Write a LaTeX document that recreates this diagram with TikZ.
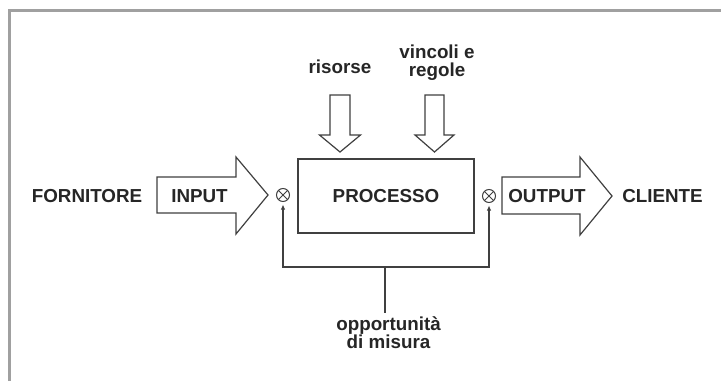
\documentclass[tikz,border=0pt]{standalone}
\usepackage{fontspec}
\setmainfont{Liberation Sans}
\usetikzlibrary{arrows.meta}
\definecolor{ln}{HTML}{404040}
\definecolor{frm}{HTML}{A0A0A0}
\tikzset{
  lbl/.style={font=\fontsize{18.8}{18}\selectfont\bfseries, inner sep=0pt, align=center, text=black!85},
  blk/.style={draw=ln, line width=1.2pt, fill=white, line join=miter},
  conn/.style={draw=ln, line width=1.1pt},
  otm/.style={circle, draw=ln, line width=1pt, minimum size=13pt, inner sep=0pt,
    path picture={\draw[ln, line width=0.9pt] (path picture bounding box.south west) -- (path picture bounding box.north east)
      (path picture bounding box.north west) -- (path picture bounding box.south east);}},
}
\begin{document}
\begin{tikzpicture}[x=1pt,y=-1pt]
\useasboundingbox (0,0) rectangle (721,381);
\fill[white] (0,0) rectangle (721,381);
% frame
\draw[frm, line width=3pt] (9,381) -- (9,10) -- (721,10);
% process box
\node[blk, minimum width=176pt, minimum height=74pt, inner sep=0pt] (proc) at (386,196) {};
\node[lbl] (proct) at (386,196) {PROCESSO};
% input arrow
\draw[blk] (157,177) -- (236,177) -- (236,157) -- (268,195) -- (236,234) -- (236,213) -- (157,213) -- cycle;
\node[lbl] (inp) at (199.5,196) {INPUT};
% output arrow
\draw[blk] (502,177) -- (580,177) -- (580,157) -- (612,196) -- (580,235) -- (580,214) -- (502,214) -- cycle;
\node[lbl] (outp) at (547,196) {OUTPUT};
% side labels
\node[lbl] (forn) at (87,196) {FORNITORE};
\node[lbl] (cli) at (662.5,196) {CLIENTE};
% down arrows
\draw[blk] (330,95) -- (350,95) -- (350,135) -- (360.5,135) -- (340,152) -- (319.5,135) -- (330,135) -- cycle;
\draw[blk] (425,95) -- (444,95) -- (444,135) -- (454,135) -- (434.5,152) -- (415,135) -- (425,135) -- cycle;
\node[lbl] (ris) at (340,67) {risorse};
\node[lbl] (vin) at (437,63) {vincoli e\\regole};
% measurement points
\node[otm] (ol) at (283,195) {};
\node[otm] (or) at (489,196) {};
\coordinate (stem) at (385,267);
\draw[conn, {Latex[length=5pt,width=4.5pt]}-{Latex[length=5pt,width=4.5pt]}, shorten <=2.5pt, shorten >=2.5pt]
  (ol.south) |- (stem) -| (or.south);
\node[lbl] (opp) at (388.5,333) {opportunità\\di misura};
\draw[conn, shorten >=4pt] (stem) -- (stem |- opp.north);
\end{tikzpicture}
\end{document}
